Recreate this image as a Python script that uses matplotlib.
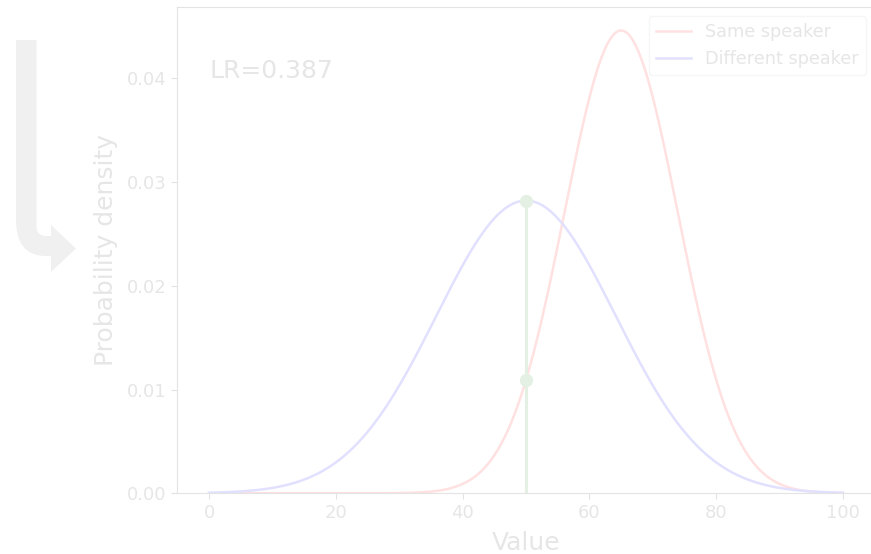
import numpy as np
import matplotlib
matplotlib.use("Agg")
import matplotlib.pyplot as plt
from matplotlib.path import Path
from matplotlib.patches import PathPatch

# distributions (mean, variance)
same_mean, same_var = 65, 80
diff_mean, diff_var = 50, 200
evidence = 50
lr_text = "LR=0.387"
labels = ["Same speaker", "Different speaker"]

text_col = "#e6e6e6"
spine_col = "#e3e3e3"


def norm_pdf(x, mu, var):
    return np.exp(-(x - mu) ** 2 / (2 * var)) / np.sqrt(2 * np.pi * var)


x = np.linspace(0, 100, 1000)
same = norm_pdf(x, same_mean, same_var)
diff = norm_pdf(x, diff_mean, diff_var)
e_same = norm_pdf(evidence, same_mean, same_var)
e_diff = norm_pdf(evidence, diff_mean, diff_var)

fig = plt.figure(figsize=(8.71, 5.54), dpi=100)
ax = fig.add_axes([0.2036, 0.1096, 0.8007, 0.8771])

ax.plot(x, same, color="#ffe1e1", lw=1.8, label=labels[0])
ax.plot(x, diff, color="#e1e1ff", lw=1.8, label=labels[1])
ax.plot([evidence, evidence], [0, e_diff], color="#e3f0e3", lw=2.2)
ax.plot([evidence, evidence], [e_same, e_diff], "o", color="#e3f0e3", ms=8.5)

ax.set_ylim(bottom=0)
ax.text(0, 0.04, lr_text, fontsize=18, color=text_col)

ax.set_xlabel("Value", fontsize=18, color=text_col, labelpad=6)
ax.set_ylabel("Probability density", fontsize=18, color=text_col, labelpad=6)
ax.tick_params(labelsize=13, colors=spine_col, labelcolor=text_col, length=4.5)
for s in ["left", "top", "bottom"]:
    ax.spines[s].set_color(spine_col)
ax.spines["right"].set_visible(False)

leg = ax.legend(loc="upper right", fontsize=12.7, labelcolor=text_col, framealpha=1)
leg.get_frame().set_edgecolor("#f6f6f6")

# bent arrow decoration on the left (figure pixel coords)
W, H = 871, 554
pts = [(16, 40), (16, 220), (16, 256), (46, 256), (51, 256), (51, 272),
       (76, 248.5), (51, 225), (51, 236), (46, 236), (36.5, 236), (36.5, 226),
       (36.5, 40), (16, 40)]
codes = [Path.MOVETO, Path.LINETO, Path.CURVE3, Path.CURVE3, Path.LINETO,
         Path.LINETO, Path.LINETO, Path.LINETO, Path.LINETO, Path.LINETO,
         Path.CURVE3, Path.CURVE3, Path.LINETO, Path.CLOSEPOLY]
verts = [(px / W, 1 - py / H) for px, py in pts]
fig.patches.append(PathPatch(Path(verts, codes), transform=fig.transFigure,
                             facecolor="#f0f0f0", edgecolor="none"))

fig.savefig("out.png", dpi=100)
